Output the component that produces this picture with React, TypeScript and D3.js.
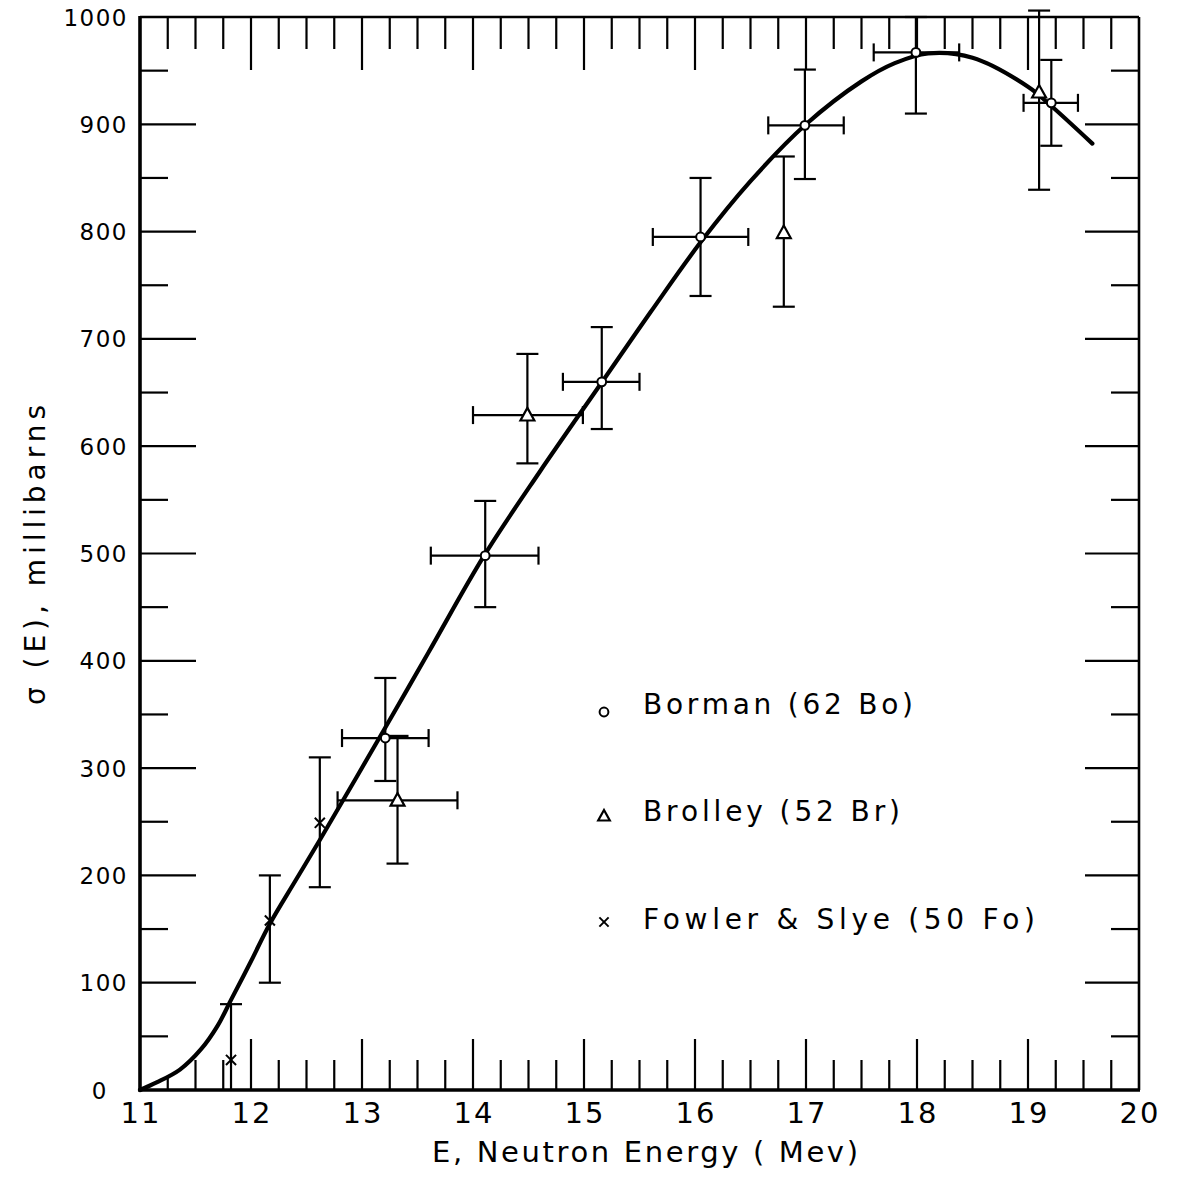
import React from "react";
import * as d3 from "d3";

// ---- data ----
const curveE = [11, 11.15, 11.36, 11.55, 11.7, 11.82, 12.0, 12.17, 12.4, 12.62, 13.2, 13.6, 14.1, 14.6, 15.15, 15.6, 16.05, 16.5, 17.0, 17.5, 17.8, 18.1, 18.5, 19.0, 19.2, 19.58];
const curveV = [0, 7, 19, 38, 60, 84, 120, 155, 195, 233, 336, 408, 498, 576, 658, 725, 790, 847, 900, 940, 957, 966, 962, 935, 918, 882];

const bormanE = [13.21, 14.11, 15.16, 16.05, 16.99, 17.99, 19.21];
const bormanV = [328, 498, 660, 795, 899, 967, 920];
const bormanLo = [288, 450, 616, 740, 849, 910, 880];
const bormanHi = [384, 549, 711, 850, 951, 1000, 960];
const bormanELo = [12.82, 13.62, 14.81, 15.62, 16.66, 17.61, 18.96];
const bormanEHi = [13.6, 14.59, 15.5, 16.48, 17.34, 18.38, 19.45];

const brolleyE = [13.32, 14.49, 16.8, 19.1];
const brolleyV = [270, 629, 799, 930];
const brolleyLo = [211, 584, 730, 839];
const brolleyHi = [330, 686, 870, 1006];
const brolleyELo: (number | null)[] = [12.78, 14.0, null, null];
const brolleyEHi: (number | null)[] = [13.86, 14.99, null, null];

const fowlerE = [11.82, 12.17, 12.62];
const fowlerV = [28, 158, 249];
const fowlerLo = [0, 100, 189];
const fowlerHi = [80, 200, 310];

const xTickLabels = ["11", "12", "13", "14", "15", "16", "17", "18", "19", "20"];
const yTickLabels = ["0", "100", "200", "300", "400", "500", "600", "700", "800", "900", "1000"];

const legendLabels = ["Borman (62 Bo)", "Brolley (52 Br)", "Fowler & Slye (50 Fo)"];
const legendKinds = ["circle", "triangle", "x"];

const FONT = "'DejaVu Sans', 'Liberation Sans', Arial, sans-serif";

export default function App() {
  const W = 1178, H = 1177;
  const x = d3.scaleLinear().domain([11, 20]).range([140, 1139]);
  const y = d3.scaleLinear().domain([0, 1000]).range([1090, 17]);

  const pts: [number, number][] = curveE.map((e, i) => [e, curveV[i]]);
  const cv = d3.curveCatmullRom.alpha(0.5);
  const line = d3.line<[number, number]>().x(d => x(d[0])).y(d => y(d[1])).curve(cv);
  const areaBelow = d3.area<[number, number]>().x(d => x(d[0])).y0(y(0) + 10).y1(d => y(d[1])).curve(cv);
  const areaAbove = d3.area<[number, number]>().x(d => x(d[0])).y0(0).y1(d => y(d[1])).curve(cv);

  const xMinor = d3.range(11.25, 20, 0.25);
  const yMinor = d3.range(50, 1000, 50);

  const tickW = 2.2;
  const bottomTicks = xMinor.map((e, i) => {
    const major = Math.abs(e - Math.round(e)) < 1e-6;
    return <line key={i} x1={x(e)} x2={x(e)} y1={y(0)} y2={y(0) - (major ? 51 : 30)} stroke="#000" strokeWidth={tickW} />;
  });
  const topTicks = xMinor.map((e, i) => {
    const major = Math.abs(e - Math.round(e)) < 1e-6;
    return <line key={i} x1={x(e)} x2={x(e)} y1={y(1000)} y2={y(1000) + (major ? 53 : 32)} stroke="#000" strokeWidth={tickW} />;
  });
  const leftTicks = yMinor.map((v, i) => {
    const major = v % 100 === 0;
    return <line key={i} x1={x(11)} x2={x(11) + (major ? 56 : 28)} y1={y(v)} y2={y(v)} stroke="#000" strokeWidth={tickW} />;
  });
  const rightTicks = yMinor.map((v, i) => {
    const major = v % 100 === 0;
    return <line key={i} x1={x(20)} x2={x(20) - (major ? 54 : 28)} y1={y(v)} y2={y(v)} stroke="#000" strokeWidth={tickW} />;
  });

  const ebW = 2.2;
  const capV = 11;
  const capH = 9;

  const errBar = (key: string, e: number, lo: number, hi: number, eLo: number | null, eHi: number | null, v: number) => (
    <g key={key} stroke="#000" strokeWidth={ebW} fill="none">
      <line x1={x(e)} x2={x(e)} y1={y(lo)} y2={y(hi)} />
      {lo > 0 && <line x1={x(e) - capV} x2={x(e) + capV} y1={y(lo)} y2={y(lo)} />}
      <line x1={x(e) - capV} x2={x(e) + capV} y1={y(hi)} y2={y(hi)} />
      {eLo != null && eHi != null && (
        <g>
          <line x1={x(eLo)} x2={x(eHi)} y1={y(v)} y2={y(v)} />
          <line x1={x(eLo)} x2={x(eLo)} y1={y(v) - capH} y2={y(v) + capH} />
          <line x1={x(eHi)} x2={x(eHi)} y1={y(v) - capH} y2={y(v) + capH} />
        </g>
      )}
    </g>
  );

  const marker = (kind: string, cx: number, cy: number, s: number, key?: string) => {
    if (kind === "circle")
      return <circle key={key} cx={cx} cy={cy} r={s * 0.55} fill="#fff" stroke="#000" strokeWidth={2} />;
    if (kind === "triangle") {
      const h = s;
      const p = `M${cx},${cy - h * 0.6} L${cx + h * 0.58},${cy + h * 0.45} L${cx - h * 0.58},${cy + h * 0.45} Z`;
      return <path key={key} d={p} fill="#fff" stroke="#000" strokeWidth={2.2} />;
    }
    const r = s * 0.42;
    return (
      <g key={key} stroke="#000" strokeWidth={2}>
        <line x1={cx - r} x2={cx + r} y1={cy - r} y2={cy + r} />
        <line x1={cx - r} x2={cx + r} y1={cy + r} y2={cy - r} />
      </g>
    );
  };

  const legendY = [712, 816, 922];

  return (
    <svg width={W} height={H} style={{ position: "absolute", left: 0, top: 0, background: "#fff" }} fontFamily={FONT}>
      <rect x={0} y={0} width={W} height={H} fill="#fff" />
      <defs>
        <clipPath id="belowCurve">
          <path d={areaBelow(pts) || ""} />
          <rect x={x(11.62)} y={0} width={W} height={H} />
        </clipPath>
        <clipPath id="aboveCurve">
          <path d={areaAbove(pts) || ""} />
          <rect x={0} y={0} width={x(17.2)} height={H} />
          <rect x={x(19.58)} y={0} width={W} height={H} />
        </clipPath>
      </defs>

      <g clipPath="url(#belowCurve)">{bottomTicks}</g>
      <g clipPath="url(#aboveCurve)">{topTicks}</g>
      <g>{leftTicks}</g>
      <g>{rightTicks}</g>

      <line x1={x(11)} x2={x(20)} y1={y(1000)} y2={y(1000)} stroke="#000" strokeWidth={2.6} />
      <line x1={x(20)} x2={x(20)} y1={y(1000)} y2={y(0)} stroke="#000" strokeWidth={2.6} />
      <line x1={x(11)} x2={x(11)} y1={y(1000) - 1} y2={y(0) + 1.5} stroke="#000" strokeWidth={3.6} />
      <line x1={x(11) - 1.5} x2={x(20) + 1} y1={y(0)} y2={y(0)} stroke="#000" strokeWidth={3.6} />

      {xTickLabels.map((t, i) => (
        <text key={t} x={x(11 + i) + 1} y={1123} fontSize={29} textAnchor="middle" letterSpacing={2}>{t}</text>
      ))}
      {yTickLabels.map((t, i) => (
        <text key={t} x={t === "0" ? 108 : 128} y={y(i * 100) + 8.5} fontSize={23} textAnchor="end" letterSpacing={1.5}>{t}</text>
      ))}

      <text x={645} y={1162} fontSize={29} textAnchor="middle" textLength={426} lengthAdjust="spacing">E, Neutron Energy ( Mev)</text>
      <text transform="translate(45,555) rotate(-90)" fontSize={28} textAnchor="middle" textLength={300} lengthAdjust="spacing">σ (E), millibarns</text>

      {bormanE.map((e, i) => errBar("b" + i, e, bormanLo[i], bormanHi[i], bormanELo[i], bormanEHi[i], bormanV[i]))}
      {brolleyE.map((e, i) => errBar("r" + i, e, brolleyLo[i], brolleyHi[i], brolleyELo[i], brolleyEHi[i], brolleyV[i]))}
      {fowlerE.map((e, i) => errBar("f" + i, e, fowlerLo[i], fowlerHi[i], null, null, fowlerV[i]))}

      <path d={line(pts) || ""} fill="none" stroke="#000" strokeWidth={4.2} strokeLinecap="round" />

      {bormanE.map((e, i) => marker("circle", x(e), y(bormanV[i]), 8, "bm" + i))}
      {brolleyE.map((e, i) => marker("triangle", x(e), y(brolleyV[i]), 12, "rm" + i))}
      {fowlerE.map((e, i) => marker("x", x(e), y(fowlerV[i]), 12, "fm" + i))}

      {legendLabels.map((lab, i) => (
        <g key={lab}>
          {marker(legendKinds[i], 604, legendY[i], legendKinds[i] === "x" ? 11 : legendKinds[i] === "triangle" ? 10 : 8)}
          <text x={643} y={legendY[i] + (i === 2 ? 7 : i === 1 ? 5 : 2)} fontSize={28}
            textLength={[270, 257, 392][i]} lengthAdjust="spacing">{lab}</text>
        </g>
      ))}
    </svg>
  );
}
